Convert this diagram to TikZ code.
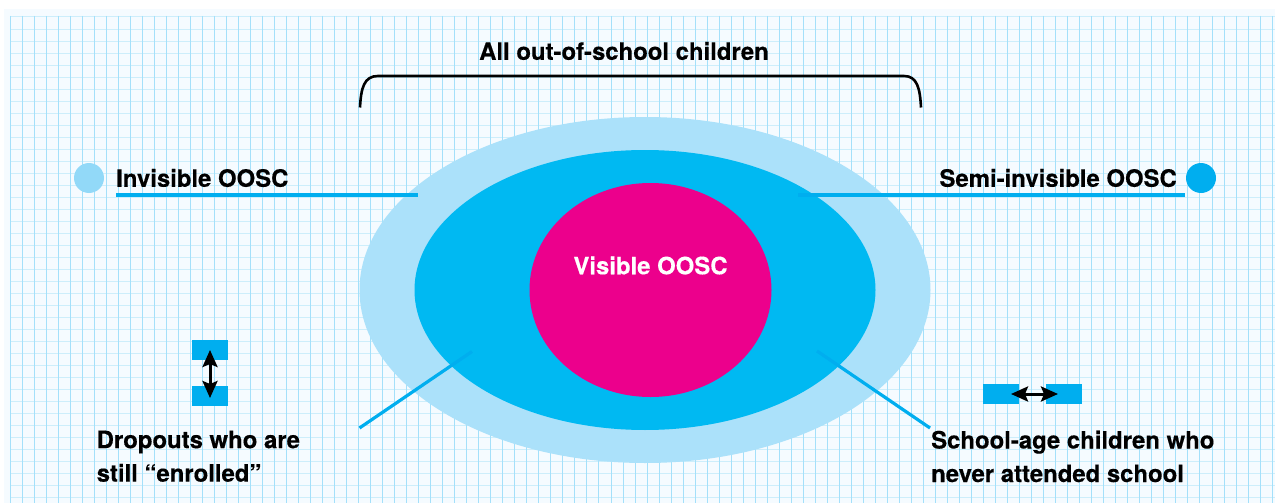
\documentclass[tikz,border=0pt]{standalone}
\usepackage{fontspec}
\setmainfont[BoldFeatures={FakeBold=0.35}]{TeX Gyre Heros}
\usetikzlibrary{arrows.meta,shapes.geometric}
\definecolor{bgpale}{HTML}{F5FBFF}
\definecolor{gridv}{HTML}{A4E0FA}
\definecolor{gridh}{HTML}{CDEEFB}
\definecolor{lightb}{HTML}{ABE1FA}
\definecolor{dotl}{HTML}{92D9F8}
\definecolor{midb}{HTML}{00B9F2}
\definecolor{dotb}{HTML}{00AEEF}
\definecolor{magen}{HTML}{EC008C}
\tikzset{
  x=1pt,y=-1pt,
  lbl/.style={font=\fontsize{23.9}{33.5}\selectfont\bfseries,text=black,inner sep=0pt,align=left},
  leader/.style={draw=dotb,line width=3.2pt},
  keydot/.style={circle,minimum size=30pt,inner sep=0pt},
  keybar/.style={fill=dotb,minimum width=36pt,minimum height=20pt,inner sep=0pt},
  dbl/.style={line width=3pt,{Stealth[length=17pt,width=15pt,inset=3pt]}-{Stealth[length=17pt,width=15pt,inset=3pt]}}
}
\begin{document}
\begin{tikzpicture}
\useasboundingbox (0,0) rectangle (1275,503);
\fill[white] (0,0) rectangle (1275,503);
\fill[bgpale] (4,9) rectangle (1275,503);
\foreach \i in {0,...,40} \draw[gridh,line width=1pt] (10,{17+12.02*\i}) -- (1275,{17+12.02*\i});
\foreach \i in {0,...,105} \draw[gridv,line width=1pt] ({10+12.02*\i},16) -- ({10+12.02*\i},503);
% ellipses
\node[ellipse,fill=lightb,minimum width=571pt,minimum height=346pt,inner sep=0pt] (outer) at (645,290) {};
\node[ellipse,fill=midb,minimum width=461pt,minimum height=280pt,inner sep=0pt] (middle) at (645,290) {};
\node[ellipse,fill=magen,minimum width=242pt,minimum height=214pt,inner sep=0pt] (inner) at (650.5,290) {};
\node[font=\fontsize{23.9}{28}\selectfont\bfseries,text=white,inner sep=0pt] (vis) at (650.5,265.5) {Visible OOSC};
% top
\node[lbl] (all) at (624,51) {All out-of-school children};
\coordinate (bl) at (360,107.5);\coordinate (br) at (921,107.5);
\draw[black,line width=2.6pt] (bl) .. controls (361,88) and (364,76) .. (378,76) -- (904,76) .. controls (917,76) and (920,88) .. (br);
% left
\node[keydot,fill=dotl] (d1) at (89,178) {};
\node[lbl,anchor=west] (inv) at (116,178) {Invisible OOSC};
\coordinate (l1a) at (116,195);\coordinate (l1b) at (418,195);
\draw[leader] (l1a) -- (l1b);
% right
\node[keydot,fill=dotb] (d2) at (1201,178) {};
\node[lbl,anchor=east] (semi) at (1177,178) {Semi-invisible OOSC};
\coordinate (l2a) at (1185,195);\coordinate (l2b) at (798,195);
\draw[leader] (l2a) -- (l2b);
% vertical key
\node[keybar] (v1) at (210,350) {};
\node[keybar] (v2) at (210,396) {};
\draw[dbl,shorten >=-2pt] (v1.center) -- (v2.center);
% horizontal key
\node[keybar] (h1) at (1001,394) {};
\node[keybar] (h2) at (1064,394) {};
\draw[dbl,shorten <=10pt,shorten >=6pt] (h1.center) -- (h2.center);
% labels
\node[lbl,anchor=north west] (drop) at (96.5,430.5) {Dropouts who are\\still “enrolled”};
\coordinate (l3a) at (359.5,428);\coordinate (l3b) at (472,351.5);
\draw[leader] (l3a) -- (l3b);
\node[lbl,anchor=north west] (sch) at (931,430.5) {School-age children who\\never attended school};
\coordinate (l4a) at (930,428);\coordinate (l4b) at (817,351);
\draw[leader] (l4a) -- (l4b);
\end{tikzpicture}
\end{document}
